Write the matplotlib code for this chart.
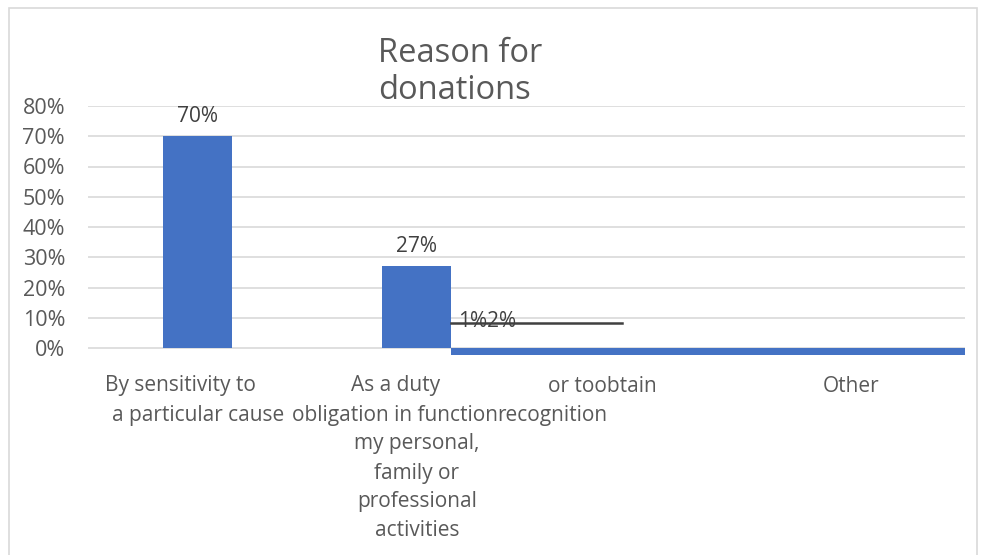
import matplotlib
matplotlib.use("Agg")
import matplotlib.pyplot as plt
import matplotlib.transforms as mtransforms
from matplotlib.patches import Rectangle

# Survey results: reasons given for making donations
categories = [
    "By sensitivity to a particular cause",
    "As a duty obligation in function my personal, family or professional activities",
    "or toobtain recognition",
    "Other",
]
shares = [70, 27, 1, 2]            # percent
y_ticks = [0, 10, 20, 30, 40, 50, 60, 70, 80]
title = "Reason for\ndonations"

# Wrapped category text, one entry per printed line: (category index, text, x offset, line number)
label_lines = [
    (0, "By sensitivity to", -0.08, 0),
    (0, "a particular cause", 0.0, 1),
    (1, "As a duty", -0.095, 0),
    (1, "obligation in function", -0.10, 1),
    (1, "my personal,", 0.0, 2),
    (1, "family or", 0.0, 3),
    (1, "professional", 0.0, 4),
    (1, "activities", 0.0, 5),
    (2, "or toobtain", -0.156, 0),
    (2, "recognition", -0.384, 1),
    (3, "Other", -0.02, 0),
]

BAR = "#4472C4"
GRID = "#D9D9D9"
TXT = "#595959"
LBL = "#404040"
FONT = ["Open Sans", "DejaVu Sans"]
plt.rcParams["font.family"] = FONT

W, H = 981, 555
fig = plt.figure(figsize=(W / 100, H / 100), dpi=100)

# plot area in pixels
left_px, right_px = 88, 965
zero_px, top_px = 348, 106
ymax, ymin = 0.80, -0.04
px_per = (zero_px - top_px) / ymax
bottom_px = zero_px - ymin * px_per
ax = fig.add_axes([left_px / W, 1 - bottom_px / H,
                   (right_px - left_px) / W, (bottom_px - top_px) / H])

x = list(range(len(categories)))
vals = [s / 100 for s in shares]
bar_w = 0.315

ax.set_xlim(-0.5, len(categories) - 0.5)
ax.set_ylim(ymin, ymax)
for t in y_ticks:
    ax.axhline(t / 100, color=GRID, lw=1.2, zorder=0)

# the two main bars
ax.bar(x[:2], vals[:2], width=bar_w, color=BAR, zorder=2)
for xi, v, s in zip(x[:2], vals[:2], shares[:2]):
    ax.annotate(f"{s}%", (xi, v), xytext=(0, 14.5), textcoords="offset points",
                ha="center", va="center", fontsize=15, color=LBL)

# the two small shares collapse into a flat strip along the baseline
strip_left = x[1] + bar_w / 2
strip_right = len(categories) - 0.5
ax.bar(strip_left, -(vals[2] + vals[3]) * 0.8, width=strip_right - strip_left,
       align="edge", color=BAR, zorder=2)

# leader line carrying the small-share labels
lead_y = 0.083
ax.plot([strip_left, 1.936], [lead_y, lead_y], color="#404040", lw=1.8, zorder=3)
ax.text(strip_left + 0.03, lead_y + 0.004, f"{shares[2]}%{shares[3]}%", ha="left",
        va="center", fontsize=15, color=LBL, zorder=4)

ax.set_yticks([t / 100 for t in y_ticks])
ax.set_yticklabels([f"{t}%" for t in y_ticks], fontsize=15.5, color=TXT)
ax.tick_params(axis="y", length=0, pad=16.5)
ax.set_xticks([])
for sp in ax.spines.values():
    sp.set_visible(False)

# category labels
trans = mtransforms.blended_transform_factory(ax.transData, fig.transFigure)
first_line_px, line_gap = 386, 29
for ci, text, dx, ln in label_lines:
    ypx = first_line_px + ln * line_gap
    ax.text(x[ci] + dx, 1 - ypx / H, text, transform=trans, ha="center",
            va="center", fontsize=15, color=TXT, clip_on=False)

# title
fig.text(378 / W, 1 - 37 / H, title, ha="left", va="top", fontsize=23.5,
         color=TXT, linespacing=1.17)

# chart border
fig.add_artist(Rectangle((9 / W, -0.05), (977 - 9) / W, 1.05 - 8 / H,
                         transform=fig.transFigure, fill=False,
                         edgecolor="#D9D9D9", lw=1.2, clip_on=False))

fig.savefig("out.png", dpi=100)
